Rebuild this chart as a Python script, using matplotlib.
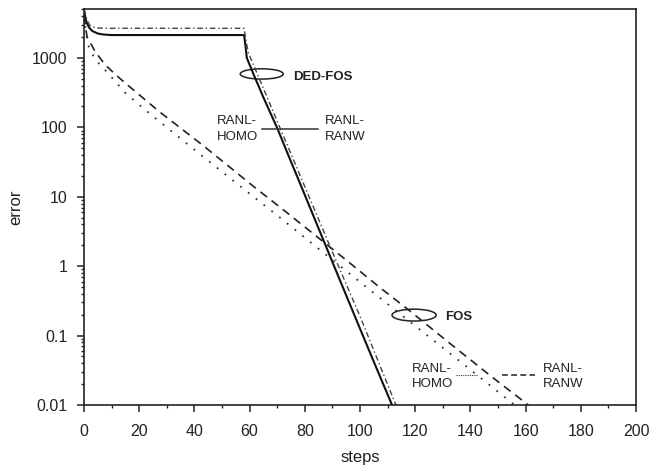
import numpy as np
import matplotlib.pyplot as plt
from matplotlib.patches import Ellipse
from matplotlib.ticker import FixedLocator, FixedFormatter, MultipleLocator, LogLocator, NullFormatter

plt.rcParams['font.family'] = ['Liberation Sans', 'DejaVu Sans']

# DED-FOS, RANL-RANW (solid)
ded_ranw_steps = [0, 0.5, 1, 2, 3, 5, 7, 10, 58, 58.5, 59, 61.3, 65, 70, 74, 78.3, 84.4, 90.2, 95, 100, 105, 111.6]
ded_ranw_err = [5000, 3800, 3200, 2700, 2450, 2250, 2180, 2140, 2140, 1500, 1000, 600, 270, 98, 40, 15.5, 4.0, 1.1, 0.38, 0.126, 0.042, 0.01]

# DED-FOS, RANL-HOMO (dash-dot)
ded_homo_steps = [0, 1, 2, 3, 5, 8, 58, 58.5, 59.5, 62, 70, 80, 90, 100, 113]
ded_homo_err = [5000, 3600, 3000, 2800, 2700, 2680, 2680, 2000, 1200, 700, 123, 14, 1.6, 0.19, 0.01]

# FOS, RANL-RANW (dashed)
fos_ranw_steps = [0, 1.1, 4, 7.6, 12, 16.7, 27.5, 37.3, 43.1, 52.2, 62, 72, 83, 94, 107, 117, 133.7, 148, 161]
fos_ranw_err = [4000, 2000, 1250, 800, 550, 380, 166, 83, 55, 28, 13.5, 6.6, 2.95, 1.32, 0.50, 0.245, 0.071, 0.025, 0.01]

# FOS, RANL-HOMO (dotted)
fos_homo_steps = [0, 1.4, 4, 8.3, 14.9, 21.4, 27.5, 33.7, 43.1, 57.6, 70, 79.4, 90, 104.7, 119, 131.5, 141, 156]
fos_homo_err = [4000, 1550, 950, 630, 316, 190, 120, 76, 38, 13.2, 5.4, 2.7, 1.23, 0.42, 0.148, 0.060, 0.030, 0.01]

ytick_vals = [0.01, 0.1, 1, 10, 100, 1000]
ytick_labels = ['0.01', '0.1', '1', '10', '100', '1000']

fig = plt.figure(figsize=(6.52, 4.67), dpi=100)
ax = fig.add_axes([84/652, 62/467, 552/652, 396/467])

ax.plot(ded_ranw_steps, ded_ranw_err, color='#111111', lw=1.5)
ax.plot(ded_homo_steps, ded_homo_err, color='#444444', lw=1.0, ls=(0, (4, 2, 1, 2)))
ax.plot(fos_ranw_steps, fos_ranw_err, color='#222222', lw=1.2, ls=(0, (5, 3.5)))
ax.plot(fos_homo_steps, fos_homo_err, color='#333333', lw=1.3, ls=(0, (1, 4.5)))

ax.set_yscale('log')
ax.set_xlim(0, 200)
ax.set_ylim(0.01, 5080)
ax.xaxis.set_major_locator(MultipleLocator(20))
ax.xaxis.set_minor_locator(MultipleLocator(10))
ax.yaxis.set_major_locator(FixedLocator(ytick_vals))
ax.yaxis.set_major_formatter(FixedFormatter(ytick_labels))
ax.yaxis.set_minor_locator(LogLocator(base=10, subs=np.arange(2, 10)))
ax.yaxis.set_minor_formatter(NullFormatter())

for s in ax.spines.values():
    s.set_linewidth(1.2)
    s.set_color('#222222')
ax.tick_params(which='major', direction='out', length=5, width=1.1, labelsize=11.5, colors='#222222')
ax.tick_params(axis='y', which='major', pad=7)
ax.tick_params(axis='x', which='major', pad=8.5)
ax.tick_params(which='minor', direction='out', length=2.5, width=1.0, colors='#222222')

ax.set_xlabel('steps', fontsize=12, color='#222222', labelpad=8)
ax.set_ylabel('error', fontsize=12, color='#222222', labelpad=6)

# annotations
txt = dict(transform=ax.transAxes, fontsize=9.5, color='#222222', va='center', ha='left', linespacing=1.35)
ax.add_patch(Ellipse((0.322, 0.836), 0.078, 0.026, transform=ax.transAxes, fill=False, ec='#222222', lw=1.1))
ax.text(0.378, 0.828, 'DED-FOS', fontweight='bold', **txt)
ax.text(0.241, 0.697, 'RANL-\nHOMO', **txt)
ax.plot([0.322, 0.424], [0.696, 0.696], transform=ax.transAxes, color='#333333', lw=1.1)
ax.text(0.437, 0.697, 'RANL-\nRANW', **txt)

ax.add_patch(Ellipse((0.598, 0.227), 0.080, 0.030, transform=ax.transAxes, fill=False, ec='#222222', lw=1.1))
ax.text(0.655, 0.222, 'FOS', fontweight='bold', **txt)
ax.text(0.594, 0.073, 'RANL-\nHOMO', **txt)
ax.plot([0.674, 0.714], [0.076, 0.076], transform=ax.transAxes, color='#333333', lw=0.8, ls=(0, (1, 1)))
ax.plot([0.757, 0.817], [0.076, 0.076], transform=ax.transAxes, color='#333333', lw=1.2, ls=(0, (3.5, 2)))
ax.text(0.831, 0.073, 'RANL-\nRANW', **txt)

fig.savefig('out.png', dpi=100)
